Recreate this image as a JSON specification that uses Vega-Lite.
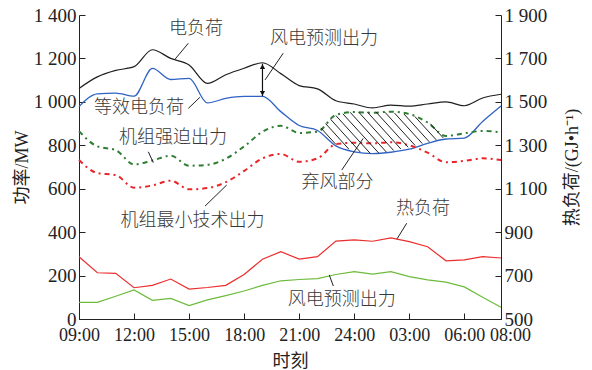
{
  "$schema": "https://vega.github.io/schema/vega-lite/v6.json",
  "width": 422,
  "height": 304,
  "autosize": {"type": "none"},
  "padding": {"left": 79, "top": 15, "right": 91, "bottom": 51},
  "background": "white",
  "config": {
    "view": {"stroke": null},
    "font": "Liberation Serif, Noto Sans CJK SC",
    "axis": {
      "grid": false,
      "domainColor": "#222222",
      "tickColor": "#222222",
      "labelColor": "#222222",
      "titleColor": "#222222",
      "labelFont": "Liberation Serif",
      "labelFontSize": 19,
      "titleFont": "Liberation Serif, Noto Sans CJK SC",
      "titleFontSize": 18,
      "titleFontWeight": "normal",
      "tickSize": -6,
      "domainWidth": 1,
      "tickWidth": 1
    },
    "text": {"font": "Noto Sans CJK SC", "fontSize": 18, "fontWeight": 300, "color": "#383838", "align": "center", "baseline": "middle"}
  },
  "datasets": {
    "hourly": [
      {"h": 0, "elec": 1062, "equiv": 978, "forced": 865, "minimum": 732, "wind": 77, "heat": 787},
      {"h": 1, "elec": 1115, "equiv": 1037, "forced": 795, "minimum": 672, "wind": 77, "heat": 713},
      {"h": 2, "elec": 1145, "equiv": 1040, "forced": 778, "minimum": 663, "wind": 105, "heat": 710},
      {"h": 3, "elec": 1162, "equiv": 1026, "forced": 712, "minimum": 605, "wind": 134, "heat": 644},
      {"h": 4, "elec": 1240, "equiv": 1154, "forced": 730, "minimum": 615, "wind": 86, "heat": 655},
      {"h": 5, "elec": 1200, "equiv": 1103, "forced": 752, "minimum": 637, "wind": 95, "heat": 684},
      {"h": 6, "elec": 1170, "equiv": 1108, "forced": 706, "minimum": 597, "wind": 62, "heat": 638},
      {"h": 7, "elec": 1085, "equiv": 995, "forced": 710, "minimum": 603, "wind": 88, "heat": 645},
      {"h": 8, "elec": 1125, "equiv": 1016, "forced": 738, "minimum": 630, "wind": 108, "heat": 655},
      {"h": 9, "elec": 1155, "equiv": 1025, "forced": 795, "minimum": 682, "wind": 129, "heat": 705},
      {"h": 10, "elec": 1180, "equiv": 1025, "forced": 862, "minimum": 740, "wind": 155, "heat": 775},
      {"h": 11, "elec": 1130, "equiv": 955, "forced": 890, "minimum": 760, "wind": 176, "heat": 810},
      {"h": 12, "elec": 1075, "equiv": 891, "forced": 857, "minimum": 724, "wind": 182, "heat": 776},
      {"h": 13, "elec": 1060, "equiv": 868, "forced": 863, "minimum": 740, "wind": 186, "heat": 787},
      {"h": 14, "elec": 1005, "equiv": 797, "forced": 940, "minimum": 805, "wind": 205, "heat": 859},
      {"h": 15, "elec": 990, "equiv": 770, "forced": 953, "minimum": 812, "wind": 218, "heat": 864},
      {"h": 16, "elec": 972, "equiv": 762, "forced": 950, "minimum": 809, "wind": 207, "heat": 858},
      {"h": 17, "elec": 985, "equiv": 768, "forced": 955, "minimum": 814, "wind": 218, "heat": 874},
      {"h": 18, "elec": 980, "equiv": 782, "forced": 944, "minimum": 800, "wind": 195, "heat": 856},
      {"h": 19, "elec": 990, "equiv": 809, "forced": 905, "minimum": 766, "wind": 180, "heat": 833},
      {"h": 20, "elec": 1000, "equiv": 829, "forced": 843, "minimum": 722, "wind": 170, "heat": 768},
      {"h": 21, "elec": 982, "equiv": 833, "forced": 855, "minimum": 728, "wind": 148, "heat": 772},
      {"h": 22, "elec": 1018, "equiv": 910, "forced": 866, "minimum": 740, "wind": 100, "heat": 787},
      {"h": 23, "elec": 1035, "equiv": 981, "forced": 860, "minimum": 732, "wind": 54, "heat": 781}
    ],
    "hatch": [
      {"h": 13.18, "mw": 880, "h2": 14.0, "mw2": 804},
      {"h": 13.44, "mw": 900, "h2": 14.71, "mw2": 782},
      {"h": 13.72, "mw": 919, "h2": 15.33, "mw2": 769},
      {"h": 14.0, "mw": 937, "h2": 15.88, "mw2": 762},
      {"h": 14.38, "mw": 945, "h2": 16.35, "mw2": 763},
      {"h": 14.78, "mw": 952, "h2": 16.75, "mw2": 769},
      {"h": 15.23, "mw": 954, "h2": 17.15, "mw2": 776},
      {"h": 15.71, "mw": 954, "h2": 17.54, "mw2": 783},
      {"h": 16.18, "mw": 954, "h2": 17.94, "mw2": 791},
      {"h": 16.68, "mw": 952, "h2": 18.32, "mw2": 799},
      {"h": 17.2, "mw": 948, "h2": 18.71, "mw2": 808},
      {"h": 17.71, "mw": 944, "h2": 19.09, "mw2": 816},
      {"h": 18.3, "mw": 933, "h2": 19.47, "mw2": 825},
      {"h": 19.15, "mw": 899, "h2": 19.85, "mw2": 834}
    ],
    "leaders": [
      {"h": 5.96, "mw": 1270, "h2": 5.23, "mw2": 1196},
      {"h": 11.13, "mw": 1224, "h2": 10.14, "mw2": 1101},
      {"h": 5.96, "mw": 970, "h2": 6.59, "mw2": 1021},
      {"h": 3.78, "mw": 770, "h2": 4.05, "mw2": 720},
      {"h": 6.87, "mw": 520, "h2": 8.05, "mw2": 617},
      {"h": 14.32, "mw": 686, "h2": 15.49, "mw2": 832},
      {"h": 17.86, "mw": 441, "h2": 17.32, "mw2": 367},
      {"h": 13.86, "mw": 152, "h2": 13.64, "mw2": 203}
    ],
    "labels": [
      {"h": 6.38, "mw": 1335, "label": "电负荷"},
      {"h": 13.35, "mw": 1290, "label": "风电预测出力"},
      {"h": 3.27, "mw": 974, "label": "等效电负荷"},
      {"h": 5.12, "mw": 834, "label": "机组强迫出力"},
      {"h": 6.19, "mw": 451, "label": "机组最小技术出力"},
      {"h": 14.09, "mw": 626, "label": "弃风部分"},
      {"h": 18.75, "mw": 507, "label": "热负荷"},
      {"h": 14.32, "mw": 88, "label": "风电预测出力"}
    ],
    "gap": [
      {"h": 10, "top": 1176, "bottom": 1026}
    ]
  },
  "layer": [
    {
      "layer": [
        {
          "data": {"name": "hourly"},
          "mark": {"type": "line", "color": "#1f1f1f", "strokeWidth": 1.2, "interpolate": "monotone"},
          "encoding": {
            "x": {
              "field": "h", "type": "quantitative",
              "scale": {"domain": [0, 23], "nice": false, "zero": false},
              "title": "时刻",
              "axis": {
                "values": [0, 3, 6, 9, 12, 15, 18, 21, 23],
                "labelExpr": "datum.value == 15 ? '24:00' : (((9 + datum.value) % 24) < 10 ? '0' : '') + ((9 + datum.value) % 24) + ':00'",
                "labelOverlap": false,
                "labelFlush": false,
                "labelBound": false,
                "labelFontSize": 18,
                "labelPadding": 13,
                "labelOffset": {"condition": {"test": "datum.value == 23", "value": 9}, "value": 0},
                "titleFont": "Noto Sans CJK SC",
                "titleX": 211,
                "titleY": 42,
                "titleAlign": "center",
                "titleBaseline": "middle"
              }
            },
            "y": {
              "field": "elec", "type": "quantitative",
              "scale": {"domain": [0, 1400], "nice": false},
              "title": "功率/MW",
              "axis": {
                "values": [0, 200, 400, 600, 800, 1000, 1200, 1400],
                "labelExpr": "replace(format(datum.value, ','), ',', ' ')",
                "labelPadding": 9,
                "titleAngle": 270,
                "titleX": -57,
                "titleY": 152,
                "titleAlign": "center",
                "titleBaseline": "middle"
              }
            }
          }
        },
        {
          "data": {"name": "hourly"},
          "mark": {"type": "line", "color": "#2f62c4", "strokeWidth": 1.3, "interpolate": "monotone"},
          "encoding": {
            "x": {"field": "h", "type": "quantitative", "title": "时刻"},
            "y": {"field": "equiv", "type": "quantitative", "title": "功率/MW"}
          }
        },
        {
          "data": {"name": "hourly"},
          "mark": {"type": "line", "color": "#2e7d32", "strokeWidth": 2, "strokeDash": [5, 4, 2, 4], "interpolate": "monotone"},
          "encoding": {
            "x": {"field": "h", "type": "quantitative", "title": "时刻"},
            "y": {"field": "forced", "type": "quantitative", "title": "功率/MW"}
          }
        },
        {
          "data": {"name": "hourly"},
          "mark": {"type": "line", "color": "#e8262a", "strokeWidth": 2, "strokeDash": [5, 4, 2, 4], "interpolate": "monotone"},
          "encoding": {
            "x": {"field": "h", "type": "quantitative", "title": "时刻"},
            "y": {"field": "minimum", "type": "quantitative", "title": "功率/MW"}
          }
        },
        {
          "data": {"name": "hourly"},
          "mark": {"type": "line", "color": "#6dbb3c", "strokeWidth": 1.2},
          "encoding": {
            "x": {"field": "h", "type": "quantitative", "title": "时刻"},
            "y": {"field": "wind", "type": "quantitative", "title": "功率/MW"}
          }
        },
        {
          "data": {"name": "hatch"},
          "mark": {"type": "rule", "color": "#222222", "strokeWidth": 1},
          "encoding": {
            "x": {"field": "h", "type": "quantitative", "title": "时刻"},
            "y": {"field": "mw", "type": "quantitative", "title": "功率/MW"},
            "x2": {"field": "h2"},
            "y2": {"field": "mw2"}
          }
        },
        {
          "data": {"name": "leaders"},
          "mark": {"type": "rule", "color": "#222222", "strokeWidth": 1},
          "encoding": {
            "x": {"field": "h", "type": "quantitative", "title": "时刻"},
            "y": {"field": "mw", "type": "quantitative", "title": "功率/MW"},
            "x2": {"field": "h2"},
            "y2": {"field": "mw2"}
          }
        },
        {
          "data": {"name": "gap"},
          "mark": {"type": "rule", "color": "#111111", "strokeWidth": 1.2},
          "encoding": {
            "x": {"field": "h", "type": "quantitative", "title": "时刻"},
            "y": {"field": "top", "type": "quantitative", "title": "功率/MW"},
            "y2": {"field": "bottom"}
          }
        },
        {
          "data": {"name": "gap"},
          "mark": {"type": "point", "shape": "triangle-up", "filled": true, "color": "#111111", "size": 28, "opacity": 1, "yOffset": 3},
          "encoding": {
            "x": {"field": "h", "type": "quantitative", "title": "时刻"},
            "y": {"field": "top", "type": "quantitative", "title": "功率/MW"}
          }
        },
        {
          "data": {"name": "gap"},
          "mark": {"type": "point", "shape": "triangle-down", "filled": true, "color": "#111111", "size": 28, "opacity": 1, "yOffset": -3},
          "encoding": {
            "x": {"field": "h", "type": "quantitative", "title": "时刻"},
            "y": {"field": "bottom", "type": "quantitative", "title": "功率/MW"}
          }
        },
        {
          "data": {"name": "labels"},
          "mark": {"type": "text"},
          "encoding": {
            "x": {"field": "h", "type": "quantitative", "title": "时刻"},
            "y": {"field": "mw", "type": "quantitative", "title": "功率/MW"},
            "text": {"field": "label"}
          }
        }
      ]
    },
    {
      "data": {"name": "hourly"},
      "mark": {"type": "line", "color": "#ec2d2d", "strokeWidth": 1.2},
      "encoding": {
        "x": {"field": "h", "type": "quantitative", "title": "时刻"},
        "y": {
          "field": "heat", "type": "quantitative",
          "scale": {"domain": [500, 1900], "nice": false, "zero": false},
          "title": "热负荷/(GJ•h⁻¹)",
          "axis": {
            "orient": "right",
            "values": [500, 700, 900, 1100, 1300, 1500, 1700, 1900],
            "labelExpr": "replace(format(datum.value, ','), ',', ' ')",
            "labelPadding": 9,
            "titleAngle": 270,
            "titleX": 71,
            "titleY": 152,
            "titleAlign": "center",
            "titleBaseline": "middle"
          }
        }
      }
    }
  ],
  "resolve": {"scale": {"y": "independent"}}
}
